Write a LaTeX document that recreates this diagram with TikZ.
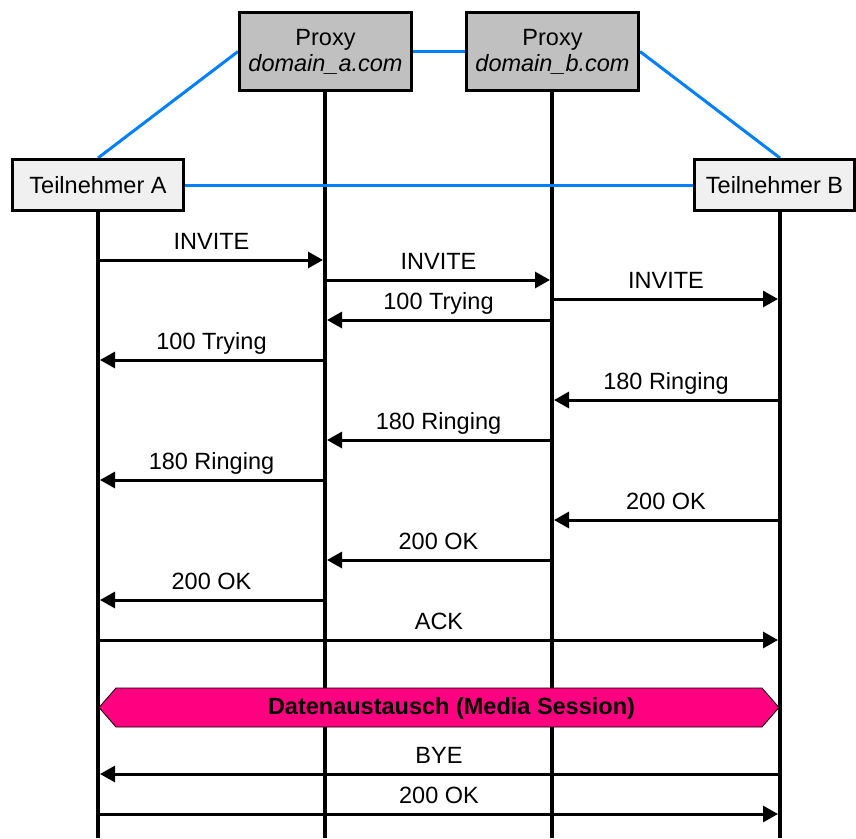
\documentclass[tikz,border=0pt]{standalone}
\usepackage{fontspec}
\setmainfont{Liberation Sans}
\usetikzlibrary{arrows.meta,backgrounds}
\definecolor{linkblue}{HTML}{0080FF}
\definecolor{proxygray}{HTML}{C0C0C0}
\definecolor{userfill}{HTML}{F0F0F0}
\definecolor{mediapink}{HTML}{FF0080}
\tikzset{
  txt/.style={font=\fontsize{23.5}{26}\selectfont},
  boldtxt/.style={font=\fontsize{23.5}{26}\selectfont\bfseries},
  proxybox/.style={draw=black, line width=3pt, fill=proxygray, minimum width=172pt, minimum height=78pt, inner sep=0pt, align=center, txt},
  userbox/.style={draw=black, line width=3pt, fill=userfill, minimum height=51pt, inner sep=0pt, txt},
  lifeline/.style={draw=black, line width=4pt},
  link/.style={draw=linkblue, line width=3pt},
  msg/.style={draw=black, line width=3pt, shorten >=2pt, -{Triangle[length=15pt,width=16pt]}},
  msglabel/.style={midway, anchor=base, yshift=11pt, inner sep=0pt, txt},
  banner/.style={draw=black, line width=0.8pt, fill=mediapink}
}
\begin{document}
\begin{tikzpicture}[x=1pt,y=1pt]
\useasboundingbox (0,0) rectangle (856,-838);
% participant boxes
\node[proxybox] (pa) at (325.5,-51.5) {Proxy\\\textit{domain\_a.com}};
\node[proxybox] (pb) at (552.5,-51.5) {Proxy\\\textit{domain\_b.com}};
\node[userbox, minimum width=171pt] (ta) at (98,-185) {Teilnehmer A};
\node[userbox, minimum width=160pt] (tb) at (774.5,-185) {Teilnehmer B};
% lifeline tops and bottoms
\coordinate (lA) at (98,-212);
\coordinate (lPA) at (325,-92);
\coordinate (lPB) at (552,-92);
\coordinate (lB) at (780,-212);
\coordinate (bot) at (0,-838);
\coordinate (tbtop) at (780,-158);
\begin{scope}[on background layer]
\draw[lifeline] (lA) -- (lA |- bot);
\draw[lifeline] (lPA) -- (lPA |- bot);
\draw[lifeline] (lPB) -- (lPB |- bot);
\draw[lifeline] (lB) -- (lB |- bot);
% blue links
\draw[link] (ta.north) -- (pa.west);
\draw[link] (pa.east) -- (pb.west);
\draw[link] (pb.east) -- (tbtop);
\draw[link] (ta.east) -- (tb.west);
\end{scope}
% messages
\foreach \y/\f/\t/\l in {
  260/lA/lPA/INVITE,
  280/lPA/lPB/INVITE,
  299/lPB/lB/INVITE,
  320/lPB/lPA/{100 Trying},
  360/lPA/lA/{100 Trying},
  400/lB/lPB/{180 Ringing},
  440/lPB/lPA/{180 Ringing},
  480/lPA/lA/{180 Ringing},
  520/lB/lPB/{200 OK},
  560/lPB/lPA/{200 OK},
  600/lPA/lA/{200 OK},
  640/lA/lB/ACK,
  774/lB/lA/BYE,
  814/lA/lB/{200 OK}}
  \draw[msg] (\f |- 0,-\y) -- (\t |- 0,-\y) node[msglabel] {\l};
% media session banner
\draw[banner] (99,-707.5) -- (116,-688) -- (762,-688) -- (779,-707.5) -- (762,-727) -- (116,-727) -- cycle;
\node[boldtxt, inner sep=0pt] (media) at (451.5,-708) {Datenaustausch (Media Session)};
\end{tikzpicture}
\end{document}
